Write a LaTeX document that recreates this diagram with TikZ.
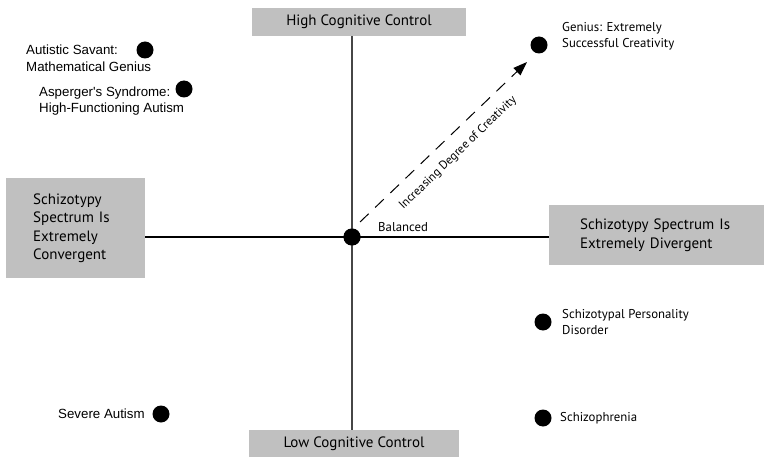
\documentclass[tikz,border=0pt]{standalone}
\usepackage{fontspec}
\setmainfont{PT Sans}
\newfontfamily\arialf{Liberation Sans}
\usetikzlibrary{arrows.meta}
\definecolor{boxgray}{RGB}{192,192,192}
\definecolor{vline}{RGB}{70,70,70}
\begin{document}
\begin{tikzpicture}[x=1pt,y=-1pt,
  gbox/.style={fill=boxgray, draw=none, inner ysep=0pt, font=\fontsize{15}{18.5}\selectfont},
  dot/.style={circle, fill=black, minimum size=17pt, inner sep=0pt},
  lbl/.style={font=\fontsize{12.8}{16}\selectfont, align=left, anchor=west, inner sep=0pt},
  albl/.style={font=\arialf\fontsize{13.3}{16.5}\selectfont, align=left, anchor=west, inner sep=0pt}]
\useasboundingbox (0,0) rectangle (765,457);

% boxes
\node[gbox, minimum width=214pt, minimum height=28pt] (top) at (359,22) {High Cognitive Control};
\node[gbox, minimum width=210pt, minimum height=27pt] (bottom) at (354,443.5) {Low Cognitive Control};
\node[gbox, anchor=north west, inner xsep=27pt, text width=85pt, align=left, minimum height=100pt] (left) at (6,178)
  {Schizotypy\\Spectrum Is\\Extremely\\Convergent};
\node[gbox, anchor=north west, inner xsep=31pt, text width=153pt, align=left, minimum height=60pt] (right) at (549,205)
  {Schizotypy Spectrum Is\\Extremely Divergent};

% centre
\node[dot] (c) at (352,237) {};
\draw[vline, line width=1.1pt] (top.south -| c) -- (bottom.north -| c);
\draw[black, line width=1.2pt] (left.east |- c) -- (right.west |- c);
\node[dot] at (c) {};
\node[lbl] (bal) at (378,227) {Balanced};

% genius and arrow
\node[dot] (gen) at (539,45) {};
\node[lbl] (gent) at (562,36) {Genius: Extremely\\Successful Creativity};
\coordinate (as) at (360,222);
\coordinate (tip) at (527,62);
\draw[line width=1pt, dash pattern=on 12pt off 9pt,
  -{Triangle[length=14pt,width=10pt]}] (as) -- (tip);
\node[font=\fontsize{12}{14}\selectfont, rotate=44, inner sep=0pt] (inc) at (458,153) {Increasing Degree of Creativity};

% left side points
\node[dot] (sav) at (145,50) {};
\node[albl] (savt) at (26,58) {Autistic Savant:\\Mathematical Genius};
\node[dot] (asp) at (184,89) {};
\node[albl] (aspt) at (39,101) {Asperger's Syndrome:\\High-Functioning Autism};
\node[dot] (sev) at (161,414) {};
\node[albl] (sevt) at (58,414) {Severe Autism};

% right side points
\node[dot] (spd) at (543,322) {};
\node[lbl] (spdt) at (562,322) {Schizotypal Personality\\Disorder};
\node[dot] (sch) at (543,418) {};
\node[lbl] (scht) at (560,418) {Schizophrenia};
\end{tikzpicture}
\end{document}
